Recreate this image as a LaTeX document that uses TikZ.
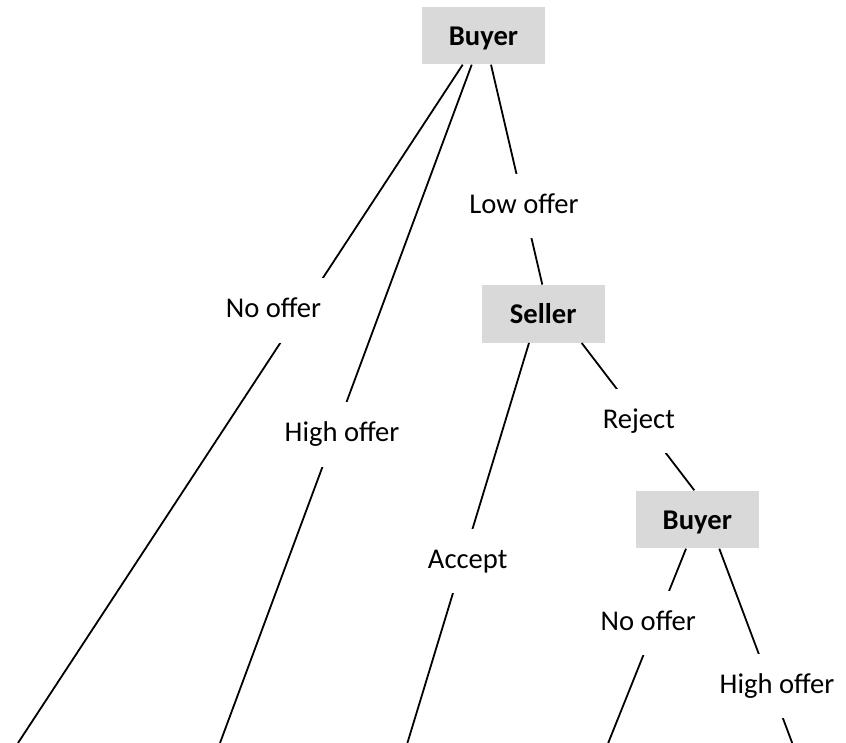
\documentclass[tikz,border=0pt]{standalone}
\usepackage{fontspec}
\setmainfont{Carlito}
\usetikzlibrary{calc}
\definecolor{boxgray}{RGB}{217,217,217}
\begin{document}
\begin{tikzpicture}[x=0.5pt,y=-0.5pt,
  player/.style={fill=boxgray, minimum width=61.5pt, minimum height=28.8pt, inner sep=0pt,
    font=\fontsize{14.3}{17}\selectfont\bfseries, text height=10pt, text depth=0pt},
  move/.style={fill=white, anchor=base, inner xsep=2pt, inner ysep=0pt,
    text height=19.75pt, text depth=12.5pt, font=\fontsize{14.3}{17}\selectfont},
  edge/.style={line width=0.9pt}]
\useasboundingbox (0,0) rectangle (846,743);
% decision nodes
\node[player] (b1) at (483.5,35.5) {Buyer};
\node[player] (s) at (543.2,313.8) {Seller};
\node[player] (b2) at (697.3,519.5) {Buyer};
% terminal ends
\coordinate (t1) at (18,743);
\coordinate (t2) at (220,743);
\coordinate (t3) at (407.4,743);
\coordinate (t4) at (608.2,743);
\coordinate (t5) at (792.2,743);
% connectors
\draw[edge] ($(b1.south)+(-20.8,0)$) -- (t1);
\draw[edge] ($(b1.south)+(-11.8,0)$) -- (t2);
\draw[edge] ($(b1.south)+(7.5,0)$) -- ($(s.north)+(-0.9,0)$);
\draw[edge] ($(s.south)+(-14.2,0)$) -- (t3);
\draw[edge] ($(s.south)+(38.5,0)$) -- ($(b2.north)+(-3,0)$);
\draw[edge] ($(b2.south)+(-11.3,0)$) -- (t4);
\draw[edge] ($(b2.south)+(22,0)$) -- (t5);
% move labels
\node[move] (lo) at (524,213.3) {Low offer};
\node[move] (no1) at (273.5,318) {No offer};
\node[move] (ho1) at (342,441.7) {High offer};
\node[move] (ac) at (467.7,568.3) {Accept};
\node[move] (rj) at (638.8,428.3) {Reject};
\node[move] (no2) at (648.3,630) {No offer};
\node[move] (ho2) at (777,693.3) {High offer};
\end{tikzpicture}
\end{document}
